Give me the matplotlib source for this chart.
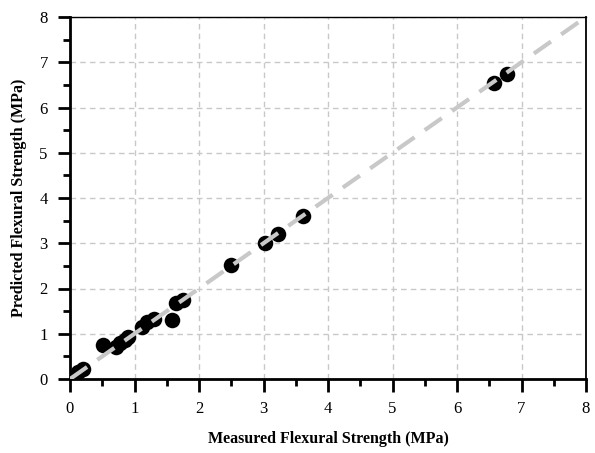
import matplotlib.pyplot as plt
from matplotlib.ticker import MultipleLocator

plt.rcParams['font.family'] = ['Liberation Serif', 'DejaVu Serif']

# measured vs predicted flexural strength (MPa)
measured = [0.05, 0.12, 0.2, 0.51, 0.72, 0.78, 0.85, 0.9, 1.12, 1.2, 1.3,
            1.58, 1.65, 1.75, 2.5, 3.02, 3.22, 3.62, 6.58, 6.78]
predicted = [0.05, 0.15, 0.22, 0.75, 0.7, 0.8, 0.86, 0.92, 1.15, 1.25, 1.33,
             1.3, 1.68, 1.74, 2.53, 3.0, 3.2, 3.6, 6.55, 6.75]
line_ends = [0, 8]

fig = plt.figure(figsize=(5.95, 4.53), dpi=100)
ax = fig.add_axes([70 / 595, 74 / 453, 516 / 595, 362 / 453])

ax.scatter(measured, predicted, s=125, color='black', zorder=3, linewidths=0)
ax.plot(line_ends, line_ends, color='#c8c8c8', lw=3, dashes=(5, 3), zorder=4)

ax.set_xlim(0, 8)
ax.set_ylim(0, 8)
ax.xaxis.set_major_locator(MultipleLocator(1))
ax.yaxis.set_major_locator(MultipleLocator(1))
ax.xaxis.set_minor_locator(MultipleLocator(0.5))
ax.yaxis.set_minor_locator(MultipleLocator(0.5))
ax.grid(True, which='major', color='#c8c8c8', ls=(0, (4, 3)), lw=1)
ax.set_axisbelow(True)

ax.tick_params(which='major', direction='out', length=9, width=2, labelsize=12, pad=7)
ax.tick_params(which='minor', direction='out', length=5, width=2)
for side in ['left', 'bottom']:
    ax.spines[side].set_linewidth(2)
ax.spines['top'].set_linewidth(1)
ax.spines['right'].set_linewidth(1.3)

ax.set_xlabel('Measured Flexural Strength (MPa)', fontsize=11.5, fontweight='bold', labelpad=10)
ax.set_ylabel('Predicted Flexural Strength (MPa)', fontsize=11.5, fontweight='bold', labelpad=9)

fig.savefig('out.png', dpi=100)
